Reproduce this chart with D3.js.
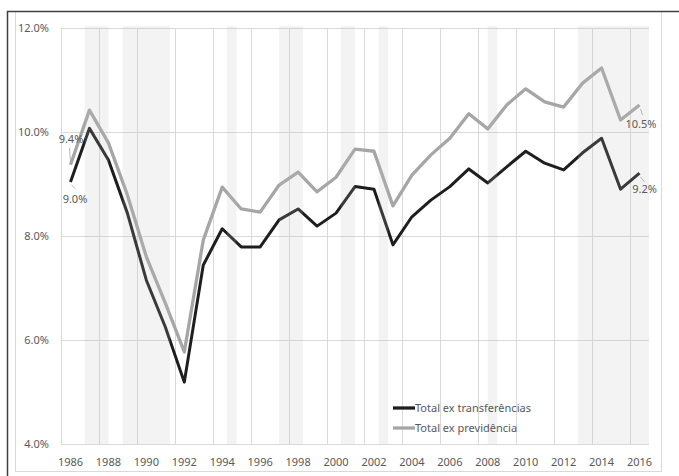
<!DOCTYPE html>
<html>
<head>
<meta charset="utf-8">
<script src="https://cdn.jsdelivr.net/npm/d3@7"></script>
<style>
  body { margin: 0; background: #fff; }
  text { font-family: "Noto Sans", "Open Sans", sans-serif; fill: #595959; }
</style>
</head>
<body>
<div id="container"></div>
<script>
// dados
const years = d3.range(1986, 2017);
const exTransferencias = [9.04, 10.07, 9.46, 8.44, 7.15, 6.25, 5.19, 7.44, 8.14, 7.79, 7.79,
  8.31, 8.52, 8.19, 8.44, 8.95, 8.90, 7.83, 8.37, 8.69, 8.95, 9.29, 9.02, 9.33, 9.63, 9.40,
  9.27, 9.60, 9.88, 8.90, 9.21];
const exPrevidencia = [9.37, 10.42, 9.79, 8.79, 7.60, 6.71, 5.77, 7.92, 8.94, 8.52, 8.46,
  8.98, 9.23, 8.85, 9.13, 9.67, 9.63, 8.58, 9.17, 9.56, 9.88, 10.35, 10.06, 10.52, 10.83, 10.58,
  10.48, 10.94, 11.23, 10.23, 10.52];
const seriesNames = ["Total ex transferências", "Total ex previdência"];
const seriesColors = ["#1e1e1e", "#a6a6a6"];
// períodos sombreados (recessões), em anos
const recessions = [[1987.25, 1988.5], [1989.25, 1991.75], [1994.75, 1995.25], [1997.5, 1998.75],
  [2000.75, 2001.5], [2002.75, 2003.25], [2008.5, 2009], [2013.25, 2017]];
const yTicks = [4, 6, 8, 10, 12];

// layout
const svgWidth = 679;
const svgHeight = 476;
const plotLeft = 61, plotRight = 649, plotTop = 28, plotBottom = 444;

const svg = d3.select("#container").append("svg")
  .attr("width", svgWidth).attr("height", svgHeight);

const x = d3.scaleBand().domain(years).range([plotLeft, plotRight]);
const xYear = d3.scaleLinear().domain([1986, 2017]).range([plotLeft, plotRight]);
const y = d3.scaleLinear().domain([4, 12]).range([plotBottom, plotTop]);
const cx = d => x(d) + x.bandwidth() / 2;

// molduras
svg.append("rect")
  .attr("x", 15.5).attr("y", 11.5).attr("width", 646).attr("height", 460)
  .attr("fill", "none").attr("stroke", "#d9d9d9");
svg.append("path")
  .attr("d", "M7.5,476V11.5H679")
  .attr("fill", "none").attr("stroke", "#404040").attr("stroke-width", 1.5);

// grades
svg.append("g").selectAll("line")
  .data(yTicks).enter().append("line")
  .attr("x1", plotLeft).attr("x2", plotRight)
  .attr("y1", d => Math.round(y(d)) + 0.5).attr("y2", d => Math.round(y(d)) + 0.5)
  .attr("stroke", "#d9d9d9");
svg.append("g").selectAll("line")
  .data(years.filter((d, i) => i % 2 === 0)).enter().append("line")
  .attr("x1", d => Math.round(x(d)) + 0.5).attr("x2", d => Math.round(x(d)) + 0.5)
  .attr("y1", plotTop).attr("y2", plotBottom)
  .attr("stroke", "#d9d9d9");

// rótulos dos eixos
svg.append("g").selectAll("text")
  .data(yTicks).enter().append("text")
  .attr("x", 49).attr("y", d => y(d) + 4)
  .attr("text-anchor", "end").attr("font-size", 11)
  .text(d => d3.format(".1f")(d) + "%");
svg.append("g").selectAll("text")
  .data(years.filter((d, i) => i % 2 === 0)).enter().append("text")
  .attr("x", d => cx(d)).attr("y", 466)
  .attr("text-anchor", "middle").attr("font-size", 11)
  .text(d => d);

// linhas
const line = d3.line().x((d, i) => cx(years[i])).y(d => y(d));
[exTransferencias, exPrevidencia].forEach((s, k) => {
  svg.append("path")
    .datum(s)
    .attr("d", line)
    .attr("fill", "none")
    .attr("stroke", seriesColors[k])
    .attr("stroke-width", k === 0 ? 3 : 3.3)
    .attr("stroke-linejoin", "round");
});

// sombreamento por cima (semi-transparente)
svg.append("g").selectAll("rect")
  .data(recessions).enter().append("rect")
  .attr("x", d => xYear(d[0])).attr("width", d => xYear(d[1]) - xYear(d[0]))
  .attr("y", plotTop - 2).attr("height", plotBottom - plotTop + 2)
  .attr("fill", "#bfbfbf").attr("opacity", 0.18);

// rótulos de dados
const n = years.length - 1;
const labels = [
  { v: exPrevidencia[0], i: 0, dx: 0.5, dy: -22, lx: [0, -1], ly: [-3, -17] },
  { v: exTransferencias[0], i: 0, dx: 4.5, dy: 21, lx: [1, 5], ly: [3, 7] },
  { v: exPrevidencia[n], i: n, dx: 1.5, dy: 23, lx: [1, 3], ly: [4, 10] },
  { v: exTransferencias[n], i: n, dx: 5, dy: 20, lx: [1, 5], ly: [4, 9] }
];
labels.forEach(l => {
  const px = cx(years[l.i]), py = y(l.v);
  svg.append("line")
    .attr("x1", px + l.lx[0]).attr("x2", px + l.lx[1])
    .attr("y1", py + l.ly[0]).attr("y2", py + l.ly[1])
    .attr("stroke", "#a6a6a6").attr("stroke-width", 0.8);
  svg.append("text")
    .attr("x", px + l.dx).attr("y", py + l.dy)
    .attr("text-anchor", "middle").attr("font-size", 11)
    .text(d3.format(".1f")(l.v) + "%");
});

// legenda
const legend = svg.append("g").attr("transform", "translate(393,408)");
seriesNames.forEach((name, k) => {
  const g = legend.append("g").attr("transform", `translate(0,${k * 20})`);
  g.append("line").attr("x1", 0).attr("x2", 22).attr("y1", 0).attr("y2", 0)
    .attr("stroke", seriesColors[k]).attr("stroke-width", 3.3);
  g.append("text").attr("x", 22).attr("y", 4).attr("font-size", 11).text(name);
});
</script>
</body>
</html>
